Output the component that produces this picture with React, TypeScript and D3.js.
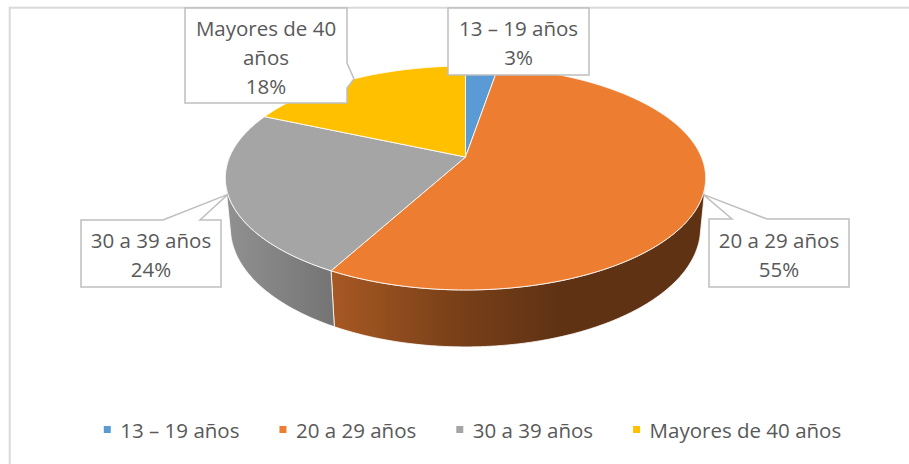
import React, { useMemo } from 'react';
import * as d3 from 'd3';

// ---------- data ----------
const categories = ['13 – 19 años', '20 a 29 años', '30 a 39 años', 'Mayores de 40 años'];
const counts = [1, 21, 9, 7];
const colors = ['#5B9BD5', '#ED7D31', '#A5A5A5', '#FFC000'];

// ---------- layout ----------
const W = 909;
const H = 464;
const FONT = '"Open Sans", "Noto Sans", sans-serif';
const FONT_SIZE = 20.5;
const TEXT_COLOR = '#595959';

// 3D perspective camera for the pie
const cam = {
  cx: 465.5,
  cy: 157,
  sinT: 0.44,
  dist: 4.79,
  fx: 1130,
  fy: 1176,
  depth: 0.228,
};
const cosT = Math.sqrt(1 - cam.sinT * cam.sinT);

// label callout boxes (layout)
const labelBoxes = [
  { x: 448, y: 8, w: 141, h: 67, ptr: null as null | { side: string; a: number; b: number } },
  { x: 709, y: 219, w: 140, h: 68, ptr: { side: 'top', a: 23, b: 58 } },
  { x: 81, y: 220, w: 140, h: 67, ptr: { side: 'top', a: 82, b: 119 } },
  { x: 185, y: 8, w: 162, h: 95, ptr: { side: 'right', a: 55, b: 80 } },
];

function project(theta: number, yLevel: number): [number, number] {
  const x = Math.sin(theta);
  const z = -Math.cos(theta);
  const d = cam.dist - yLevel * cam.sinT - z * cosT;
  return [cam.cx + (x * cam.fx) / d, cam.cy + ((z * cam.sinT - yLevel * cosT) * cam.fy) / d];
}

function arcPoints(a0: number, a1: number, yLevel: number): [number, number][] {
  const n = Math.max(2, Math.ceil(Math.abs(a1 - a0) / (Math.PI / 360)));
  const pts: [number, number][] = [];
  for (let i = 0; i <= n; i++) pts.push(project(a0 + ((a1 - a0) * i) / n, yLevel));
  return pts;
}

const measureCtx = (() => {
  if (typeof document === 'undefined') return null;
  const c = document.createElement('canvas');
  return c.getContext('2d');
})();
function textWidth(t: string): number {
  if (!measureCtx) return t.length * FONT_SIZE * 0.55;
  measureCtx.font = `${FONT_SIZE}px ${FONT}`;
  return measureCtx.measureText(t).width;
}
function wrap(t: string, maxW: number): string[] {
  const words = t.split(' ');
  const lines: string[] = [];
  let cur = '';
  for (const w of words) {
    const test = cur ? cur + ' ' + w : w;
    if (cur && textWidth(test) > maxW) {
      lines.push(cur);
      cur = w;
    } else cur = test;
  }
  if (cur) lines.push(cur);
  return lines;
}

const line = d3.line();

export default function App() {
  const total = d3.sum(counts);
  const arcs = useMemo(
    () =>
      d3
        .pie<number>()
        .sort(null)
        .startAngle(0)
        .endAngle(2 * Math.PI)(counts),
    []
  );

  const visMin = Math.acos(-1 / (cam.dist * cosT));
  const visMax = 2 * Math.PI - visMin;

  const gradStops = [
    { x: 225, f: 0.88 },
    { x: 330, f: 0.71 },
    { x: 450, f: 0.52 },
    { x: 560, f: 0.4 },
    { x: 706, f: 0.4 },
  ];
  const gx0 = 225;
  const gx1 = 706;

  const tops = arcs.map((a) => {
    const pts = [[cam.cx, cam.cy] as [number, number], ...arcPoints(a.startAngle, a.endAngle, 0)];
    return line(pts) + 'Z';
  });

  const sides = arcs.map((a) => {
    const s = Math.max(a.startAngle, visMin);
    const e = Math.min(a.endAngle, visMax);
    if (e <= s) return null;
    const top = arcPoints(s, e, 0);
    const bot = arcPoints(e, s, -cam.depth);
    return line([...top, ...bot]) + 'Z';
  });

  // legend layout
  const legendGap = 40;
  const markerGap = 9.5;
  const marker = 7;
  const itemWidths = categories.map((c) => marker + markerGap + textWidth(c));
  const legendTotal = d3.sum(itemWidths) + legendGap * (categories.length - 1);
  const legendCenter = 472.5;
  let lx = legendCenter - legendTotal / 2;
  const legendItems = categories.map((c, i) => {
    const item = { x: lx, c, i };
    lx += itemWidths[i] + legendGap;
    return item;
  });
  const legendBaseline = 438;

  const lh = 29;

  return (
    <svg
      width={W}
      height={H}
      style={{ position: 'absolute', left: 0, top: 0, background: '#fff' }}
      fontFamily={FONT}
    >
      <defs>
        {colors.map((col, i) => {
          const c = d3.rgb(col);
          return (
            <linearGradient key={i} id={`side-${i}`} gradientUnits="userSpaceOnUse" x1={gx0} x2={gx1} y1={0} y2={0}>
              {gradStops.map((st, j) => (
                <stop
                  key={j}
                  offset={(st.x - gx0) / (gx1 - gx0)}
                  stopColor={d3.rgb(c.r * st.f, c.g * st.f, c.b * st.f).formatHex()}
                />
              ))}
            </linearGradient>
          );
        })}
      </defs>

      <rect x={9.7} y={7.7} width={1100} height={1000} fill="#fff" stroke="#D9D9D9" strokeWidth={2} />

      {/* sides */}
      {sides.map((d, i) =>
        d ? <path key={`s${i}`} d={d} fill={`url(#side-${i})`} stroke="#ffffff" strokeWidth={1} strokeOpacity={0.8} strokeLinejoin="round" /> : null
      )}
      {/* tops */}
      {tops.map((d, i) => (
        <path key={`t${i}`} d={d} fill={colors[i]} stroke="#ffffff" strokeWidth={1} strokeOpacity={0.85} strokeLinejoin="round" />
      ))}

      {/* labels */}
      {arcs.map((a, i) => {
        const box = labelBoxes[i];
        const mid = (a.startAngle + a.endAngle) / 2;
        const tip = project(mid, 0);
        const { x, y, w, h } = box;
        let d: string;
        if (box.ptr && box.ptr.side === 'top') {
          d = `M${x},${y}L${x + box.ptr.a},${y}L${tip[0]},${tip[1]}L${x + box.ptr.b},${y}L${x + w},${y}L${x + w},${y + h}L${x},${y + h}Z`;
        } else if (box.ptr && box.ptr.side === 'right') {
          d = `M${x},${y}L${x + w},${y}L${x + w},${y + box.ptr.a}L${tip[0]},${tip[1]}L${x + w},${y + box.ptr.b}L${x + w},${y + h}L${x},${y + h}Z`;
        } else {
          d = `M${x},${y}L${x + w},${y}L${x + w},${y + h}L${x},${y + h}Z`;
        }
        const pct = Math.round((counts[i] / total) * 100) + '%';
        const lines = [...wrap(categories[i], w - 12), pct];
        const cy = y + h / 2;
        const first = cy - ((lines.length - 1) * lh) / 2 + 9;
        return (
          <g key={`l${i}`}>
            <path d={d} fill="#fff" stroke="#BFBFBF" strokeWidth={1.5} strokeLinejoin="miter" />
            <text x={x + w / 2} textAnchor="middle" fontSize={FONT_SIZE} fill={TEXT_COLOR}>
              {lines.map((t, k) => (
                <tspan key={k} x={x + w / 2} y={first + k * lh}>
                  {t}
                </tspan>
              ))}
            </text>
          </g>
        );
      })}

      {/* legend */}
      {legendItems.map((it) => (
        <g key={`lg${it.i}`}>
          <rect x={it.x} y={legendBaseline - 12} width={marker} height={marker} fill={colors[it.i]} />
          <text x={it.x + marker + markerGap} y={legendBaseline} fontSize={FONT_SIZE} fill={TEXT_COLOR}>
            {it.c}
          </text>
        </g>
      ))}
    </svg>
  );
}
